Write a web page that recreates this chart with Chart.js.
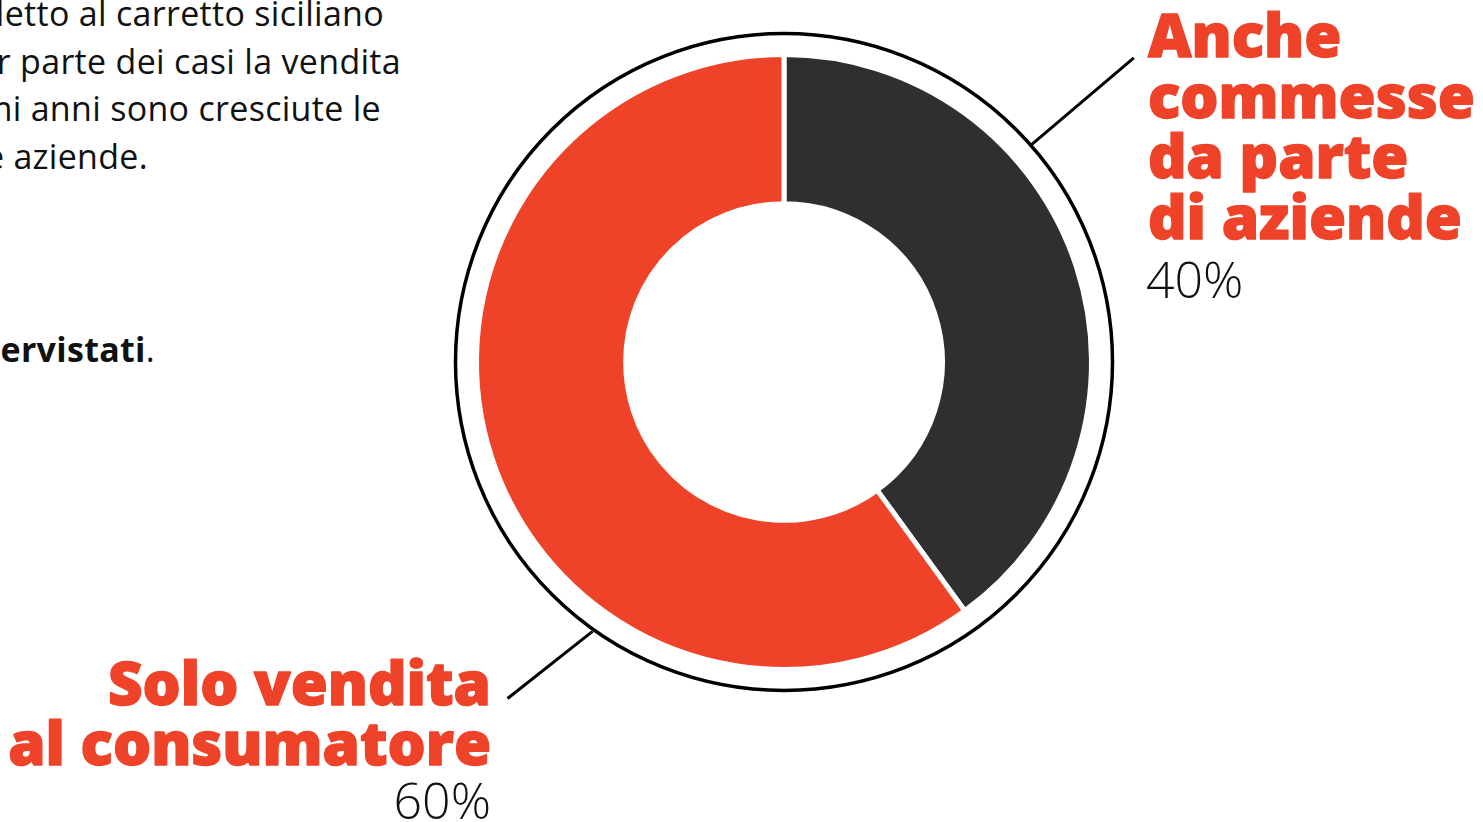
<!DOCTYPE html>
<html lang="it">
<head>
<meta charset="utf-8">
<title>Vendita al consumatore e commesse da aziende</title>
<script src="https://cdn.jsdelivr.net/npm/chart.js@4.4.1/dist/chart.umd.min.js"></script>
<style>
  html, body { margin: 0; padding: 0; background: #fff; }
  body { width: 1483px; height: 822px; position: relative; overflow: hidden; font-family: 'Open Sans', sans-serif; color: #111; }
  .intro { position: absolute; left: 0; top: 0; width: 420px; height: 380px; overflow: hidden; }
  .intro div { position: absolute; white-space: nowrap; font-size: 34px; line-height: 1; letter-spacing: 0.3px; }
  .intro b { font-weight: 700; }
  #wrap { position: absolute; left: 0; top: 0; width: 1483px; height: 822px; }
</style>
</head>
<body>
<!-- paragraph text, its start runs off the left edge -->
<div class="intro">
  <div style="right: 36px; top: -4px;">detto al carretto siciliano</div>
  <div style="right: 19px; top: 44px;">Nella maggior parte dei casi la vendita</div>
  <div style="right: 39px; top: 91px;">negli ultimi anni sono cresciute le</div>
  <div style="right: 272px; top: 139px;">commesse da parte delle aziende.</div>
  <div style="right: 265px; top: 332px;">dei produttori <b>intervistati</b>.</div>
</div>
<div id="wrap"><canvas id="salesChart"></canvas></div>
<script>
// Share of producers by type of sale
const categories = ['Anche commesse da parte di aziende', 'Solo vendita al consumatore'];
const labelLines = [['Anche', 'commesse', 'da parte', 'di aziende'], ['Solo vendita', 'al consumatore']];
const shares = [40, 60];
const sliceColors = ['#2f2f2f', '#ee4329'];

const RED = '#ee4329';

// point at a given angle (degrees) and radius around the doughnut centre
function polar(cx, cy, deg, rad) {
  const t = deg * Math.PI / 180;
  return [cx + Math.cos(t) * rad, cy + Math.sin(t) * rad];
}

// heavy title text: fill plus a thin stroke of the same colour
function heavyText(ctx, text, x, y) {
  ctx.fillText(text, x, y);
  ctx.strokeText(text, x, y);
}

// outer ring, leader lines and the big labels around the doughnut
const decorPlugin = {
  id: 'decor',
  afterDraw(chart) {
    const ctx = chart.ctx;
    const arc = chart.getDatasetMeta(0).data[0];
    const cx = arc.x, cy = arc.y, r = arc.outerRadius;

    ctx.save();
    ctx.strokeStyle = '#000';
    ctx.lineWidth = 3.5;
    ctx.beginPath();
    ctx.arc(cx, cy, r + 21, 0, Math.PI * 2);
    ctx.stroke();

    // leader lines: start on the ring, end next to the label
    const leaders = [
      { a0: -41.3, r0: r + 22, a1: -41.0, r1: r + 156 },
      { a0: 125.4, r0: r + 23, a1: 129.4, r1: r + 128 }
    ];
    ctx.lineWidth = 3;
    leaders.forEach(l => {
      const p0 = polar(cx, cy, l.a0, l.r0);
      const p1 = polar(cx, cy, l.a1, l.r1);
      ctx.beginPath();
      ctx.moveTo(p0[0], p0[1]);
      ctx.lineTo(p1[0], p1[1]);
      ctx.stroke();
    });

    ctx.textBaseline = 'alphabetic';
    ctx.lineJoin = 'round';

    // top right label
    ctx.fillStyle = RED;
    ctx.strokeStyle = RED;
    ctx.lineWidth = 1.4;
    ctx.font = "800 60px 'Open Sans'";
    ctx.textAlign = 'left';
    const tx = cx + 364;
    labelLines[0].forEach((line, i) => heavyText(ctx, line, tx, cy - 305 + i * 60.5));
    ctx.fillStyle = '#111';
    ctx.font = "300 50px 'Open Sans'";
    ctx.fillText(shares[0] + '%', tx - 2, cy - 64);

    // bottom left label
    ctx.fillStyle = RED;
    ctx.font = "800 60px 'Open Sans'";
    ctx.textAlign = 'right';
    const bx = cx - 293;
    labelLines[1].forEach((line, i) => heavyText(ctx, line, bx, cy + 343 + i * 60));
    ctx.fillStyle = '#111';
    ctx.font = "300 50px 'Open Sans'";
    ctx.fillText(shares[1] + '%', bx, cy + 457);
    ctx.restore();
  }
};

const ctx = document.getElementById('salesChart').getContext('2d');
new Chart(ctx, {
  type: 'doughnut',
  data: {
    labels: categories,
    datasets: [{
      data: shares,
      backgroundColor: sliceColors,
      borderColor: '#fff',
      borderWidth: 5,
      hoverOffset: 0
    }]
  },
  options: {
    responsive: true,
    maintainAspectRatio: false,
    animation: false,
    cutout: '51.5%',
    layout: { padding: { left: 474, right: 389, top: 52, bottom: 150 } },
    plugins: {
      legend: { display: false },
      tooltip: { enabled: false }
    }
  },
  plugins: [decorPlugin]
});
</script>
</body>
</html>
